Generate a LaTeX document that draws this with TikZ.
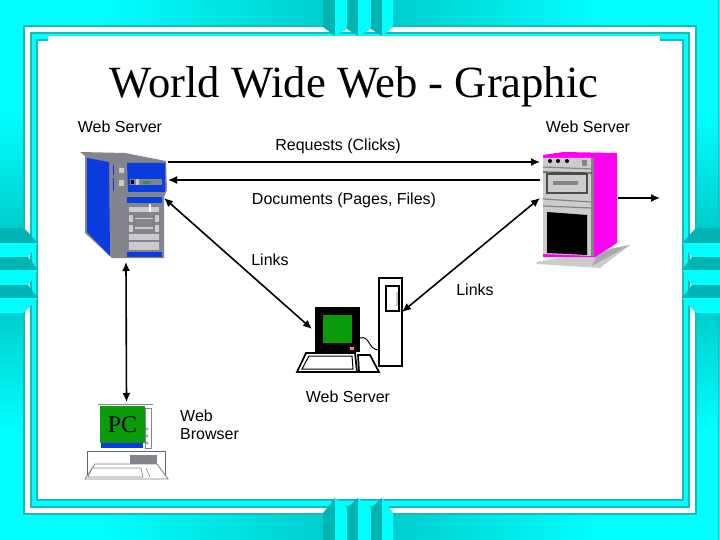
\documentclass[tikz,border=0pt]{standalone}
\usepackage{fontspec}
\setmainfont{Liberation Sans}
\newfontfamily\serifface{Liberation Serif}
\usetikzlibrary{arrows.meta}
\definecolor{framecyan}{HTML}{00FFFF}
\definecolor{frameteal}{HTML}{14BDBD}
\definecolor{bandteal}{HTML}{00CDCD}
\definecolor{bardark}{HTML}{00B4B4}
\definecolor{srvblue}{HTML}{0A3CE0}
\definecolor{srvgray}{HTML}{84848C}
\definecolor{srvlight}{HTML}{CCCCCC}
\definecolor{srvpink}{HTML}{FF00F0}
\definecolor{termgreen}{HTML}{0A9A0A}
\begin{document}
\begin{tikzpicture}
    [
        x=1pt, y=-1pt,
        >={Latex[length=9pt,width=8pt]},
        label/.style = {font=\fontsize{16}{18.5}\selectfont, inner sep=0pt, align=left},
        box/.style = {shape=rectangle, inner sep=0pt, outer sep=0pt},
        link/.style = {line width=1.6pt, draw=black},
        thick line/.style = {draw=black, line width=1.7pt},
    ]

    \useasboundingbox (0,0) rectangle (720,540);
    \fill[framecyan] (0,0) rectangle (720,540);

    % shaded bands
    \foreach \ya/\yb in {0/25, 515/540} {
        \shade[left color=framecyan, right color=bandteal] (100,\ya) rectangle (330,\yb);
        \shade[left color=bandteal, right color=framecyan] (390,\ya) rectangle (600,\yb);
        \fill[bandteal] (329,\ya) rectangle (391,\yb);
    }
    \foreach \xa/\xb in {0/23, 697/720} {
        \shade[top color=framecyan, bottom color=bandteal] (\xa,110) rectangle (\xb,230);
        \shade[top color=bandteal, bottom color=framecyan] (\xa,310) rectangle (\xb,430);
        \fill[bandteal] (\xa,229) rectangle (\xb,311);
    }
    \draw[frameteal, line width=1pt] (718.5,0) -- (718.5,540);

    % frame
    \fill[frameteal] (23,25) rectangle (697,515);
    \fill[white] (25,27) rectangle (695,513);
    \fill[frameteal] (30,32) rectangle (690,508);
    \fill[framecyan] (32,34) rectangle (688,506);
    \fill[frameteal] (36,39) rectangle (684,501);
    \fill[white] (38,41) rectangle (682,499);
    \fill[white] (48,36) rectangle (660,42);

    % top and bottom bars
    \foreach \yout/\ytip/\ymid/\yend in {540/498/508/513, 0/36/29/27} {
        \fill[bardark] (323,\yout) -- (323,\yend) -- (335,\ytip) -- (335,\yout) -- cycle;
        \fill[framecyan] (335,\yout) -- (335,\ytip) -- (347,\ymid) -- (347,\yout) -- cycle;
        \fill[bardark] (347,\yout) -- (347,\ymid) -- (358,\ytip) -- (358,\yout) -- cycle;
        \fill[framecyan] (358,\yout) -- (358,\ytip) -- (371,\ymid) -- (371,\yout) -- cycle;
        \fill[bardark] (371,\yout) -- (371,\ymid) -- (382,\ytip) -- (382,\yout) -- cycle;
        \fill[framecyan] (382,\yout) -- (382,\ytip) -- (393,\yend) -- (393,\yout) -- cycle;
    }

    % side bars
    \foreach \mirror in {1,-1} {
        \begin{scope}[shift={(360,0)}, xscale=\mirror, shift={(-360,0)}]
            \fill[bardark] (0,228) -- (24,228) -- (38,243) -- (0,243) -- cycle;
            \fill[framecyan] (0,243) -- (38,243) -- (28,257) -- (0,257) -- cycle;
            \fill[bardark] (0,257) -- (28,257) -- (38,270) -- (0,270) -- cycle;
            \fill[framecyan] (0,270) -- (38,270) -- (28,285) -- (0,285) -- cycle;
            \fill[bardark] (0,285) -- (28,285) -- (38,298) -- (0,298) -- cycle;
            \fill[framecyan] (0,298) -- (38,298) -- (24,313) -- (0,313) -- cycle;
        \end{scope}
    }

    % left server
    \node[box, minimum width=84pt, minimum height=112pt] (srvleft) at (126,206) {};
    \fill[srvgray] (80,152) -- (125,153) -- (166,161) -- (167,190) -- (164,197) -- (164,258) -- (112,258) -- (85,233) -- (85,156) -- cycle;
    \fill[srvblue] (87,158) -- (109,162) -- (110,256) -- (87,232) -- cycle;
    \fill[srvblue] (127,163) -- (165,163) -- (165,192) -- (128,192) -- cycle;
    \fill[srvblue] (113,165) rectangle (114,175);
    \fill[srvblue] (113,178) rectangle (114,191);
    \fill[srvgray] (130,179) rectangle (162,185);
    \fill[srvlight] (136,179) rectangle (139,185);
    \fill[black] (131,180) rectangle (134,184);
    \fill[termgreen!60!srvgray] (143,181) rectangle (150,184);
    \fill[srvblue] (127,197) rectangle (162,203);
    \fill[srvblue] (127,252) rectangle (162,257);
    \fill[srvlight] (129,207) rectangle (159,212);
    \fill[white] (149,204) rectangle (151,212);
    \fill[srvlight] (129,215) rectangle (133,222);
    \fill[srvlight] (155,215) rectangle (159,222);
    \fill[srvlight] (135,218) rectangle (153,219);
    \fill[srvlight] (129,225) rectangle (133,232);
    \fill[srvlight] (155,225) rectangle (159,232);
    \fill[srvlight] (135,227) rectangle (153,229);
    \fill[srvlight] (129,234) rectangle (159,240);
    \fill[srvlight] (129,242) rectangle (159,250);
    \fill[srvlight] (119,168) rectangle (124,173);
    \fill[srvlight] (119,180) rectangle (124,186);

    % right server
    \node[box, minimum width=78pt, minimum height=118pt] (srvright) at (579,209) {};
    \fill[srvlight] (536,262) -- (630,245) -- (600,268) -- (537,264) -- cycle;
    \fill[srvgray!70] (592,266) -- (630,245) -- (598,252) -- cycle;
    \fill[srvpink] (543,155) -- (563,152) -- (617,153) -- (617,243) -- (595,257) -- (543,257) -- cycle;
    \fill[srvlight] (543,158) -- (593,158) -- (593,256) -- (543,254) -- cycle;
    \fill[black] (547,212) -- (587,215) -- (587,255) -- (547,253) -- cycle;
    \fill[srvgray] (591,158) rectangle (594,256);
    \foreach \xd in {550,558,567} {
        \fill[black] (\xd,161) circle (2pt);
    }
    \fill[srvgray] (582,160) rectangle (587,166);
    \draw[srvgray, line width=1.2pt] (543,167) -- (592,169);
    \draw[black!70, line width=1.2pt] (543,172) -- (592,173);
    \draw[srvgray, line width=1.2pt] (543,199) -- (592,202);
    \draw[srvgray, line width=1.2pt] (543,206) -- (592,208);
    \draw[black!70, line width=1.2pt] (547,174) rectangle (587,193);
    \fill[srvgray] (553,181) rectangle (578,185);

    % terminal
    \node[box, minimum width=105pt, minimum height=94pt] (term) at (349.5,325) {};
    \fill[black] (315,307) rectangle (360,352);
    \fill[termgreen] (323,315) rectangle (352,343);
    \fill[red!50] (350,347) rectangle (354,350);
    \draw[thick line] (379,278) rectangle (402,366);
    \draw[thick line] (386,286) rectangle (399,311);
    \fill[srvlight] (396,292) rectangle (398,306);
    \draw[draw=black, line width=1pt] (360,338) .. controls (370,335) and (368,350) .. (379,350);
    \draw[thick line] (306,353) -- (355,353) -- (357,372) -- (297,372) -- cycle;
    \draw[draw=black, line width=1pt] (309,356) -- (352,356) -- (353,369) -- (302,369) -- cycle;
    \draw[thick line] (358,355) -- (370,355) -- (379,372) -- (359,372) -- cycle;

    % pc
    \node[box, minimum width=84pt, minimum height=77pt] (pcbox) at (126.5,440.5) {};
    \draw[srvgray, line width=0.7pt] (98,404) -- (153,404);
    \draw[srvgray, line width=0.7pt] (145,408) rectangle (151,448);
    \foreach \yd in {429,436,443} {
        \draw[srvgray, line width=0.5pt] (147,\yd) circle (1.2pt);
    }
    \fill[srvblue] (101,443) rectangle (143,448);
    \node[box, fill=termgreen, minimum width=45pt, minimum height=37pt, font=\serifface\fontsize{24}{24}\selectfont] (pc) at (122.5,424.5) {PC};
    \draw[draw=black!60, line width=0.8pt] (87,475) -- (87,451) -- (165,451) -- (165,475);
    \fill[srvgray] (130,455) rectangle (157,464);
    \draw[draw=black!50, line width=0.8pt] (95,464) -- (157,464) -- (168,479) -- (85,479) -- cycle;
    \draw[draw=black!50, line width=0.6pt] (92,468) -- (141,468) -- (143,477) -- (88,477) -- cycle;
    \draw[draw=black!50, line width=0.6pt] (146,468) -- (150,477);

    % connectors
    \coordinate (exit) at (660,198);
    \draw[link, ->] ([yshift=44pt]srvleft.east) -- ([yshift=47pt]srvright.west);
    \draw[link, ->] ([yshift=29pt]srvright.west) -- ([yshift=26pt]srvleft.east);
    \draw[link, <->] ([xshift=-4pt,yshift=8pt]srvleft.east) -- ([xshift=15pt,yshift=-4pt]term.west);
    \draw[link, <->] ([yshift=11pt]srvright.west) -- ([yshift=13pt]term.east);
    \draw[link, ->] ([yshift=11pt]srvright.east) -- (exit);
    \draw[link, <->] (srvleft.south) -- (pcbox.north);

    % texts
    \node[font=\serifface\fontsize{44.6}{44.6}\selectfont, inner sep=0pt, anchor=base] (title) at (354,98) {World Wide Web - Graphic};
    \node[label] (leftname) at (120,127) {Web Server};
    \node[label] (rightname) at (588,127) {Web Server};
    \node[label] (requests) at (338,146) {Requests (Clicks)};
    \node[label] (documents) at (344,200) {Documents (Pages, Files)};
    \node[label] (linksleft) at (270,260) {Links};
    \node[label] (linksright) at (475,290) {Links};
    \node[label] (termname) at (348,397) {Web Server};
    \node[label, anchor=west] (browser) at (180,425) {Web\\Browser};
\end{tikzpicture}
\end{document}
